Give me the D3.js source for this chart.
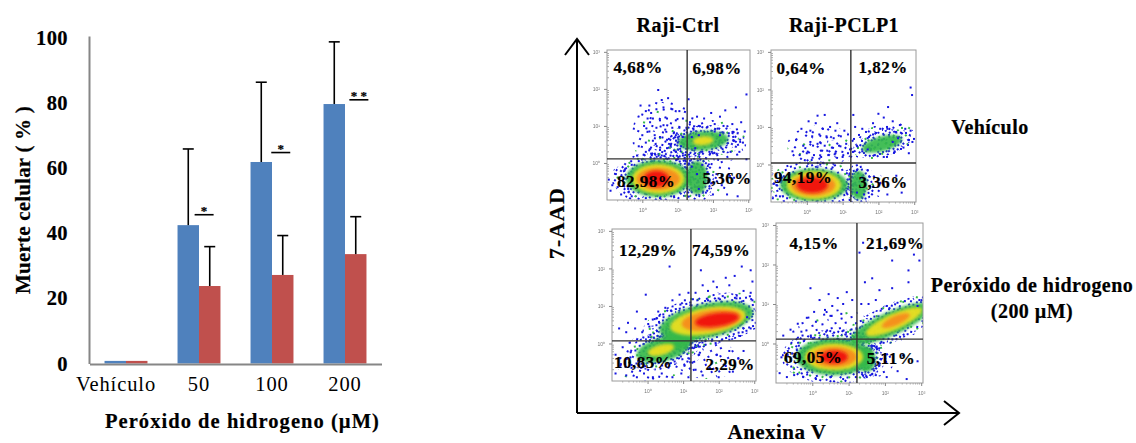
<!DOCTYPE html>
<meta charset="utf-8">
<style type="text/css">
body { margin: 0; background: #fff; }
svg { display: block; }
text { font-family: "Liberation Serif", serif; fill: #000; }
.bold { font-weight: bold; stroke: #000; stroke-width: 0.2px; }
.small text { font-size: 5px; fill: #777; font-family: "Liberation Sans", sans-serif; }
</style>
<body>
<script src="https://d3js.org/d3.v7.min.js"></script>
<script>
// bar chart values
var categories = ["Vehículo", "50", "100", "200"];
var seriesNames = ["Raji-Ctrl", "Raji-PCLP1"];
var ctrlValues = [0.8, 42.5, 61.9, 79.7];
var pclpValues = [0.8, 23.8, 27.2, 33.6];
var ctrlErrorTops = [null, 65.9, 86.4, 98.8];
var pclpErrorTops = [null, 35.9, 39.3, 45.1];
var yTicks = [0, 20, 40, 60, 80, 100];
// significance marks: category position (0-3), height, stars
var sigCategory = [1.07, 2.12, 3.19];
var sigHeight = [45.7, 64.8, 81];
var sigStars = ["*", "*", "* *"];

// flow cytometry panels
var panelRows = ["Vehículo", "Peróxido de hidrogeno"];
var pctLabels = [
  ["4,68%", "6,98%", "82,98%", "5,36%"],
  ["0,64%", "1,82%", "94,19%", "3,36%"],
  ["12,29%", "74,59%", "10,83%", "2,29%"],
  ["4,15%", "21,69%", "69,05%", "5,11%"]
];
var decadeTicks = [0, 1, 2, 3];
// quadrant gates, in log10 units
var gateX = [1.27, 1.23, 1.22, 1.23];
var gateY = [0.11, 0.04, 0.07, 0.11];
// density zones: [log x, log y, half length, half height, tilt in degrees, density level 0-4]
var zones1 = [
  [0.65, 0.75, 0.95, 0.95, 0, 0], [1.85, 0.55, 1.1, 0.62, 0, 0], [1.8, -0.35, 0.75, 0.55, 0, 0],
  [0.5, -0.4, 1.4, 0.6, 0, 0], [0.7, 0.25, 0.6, 0.3, 0, 0], [0.9, 0.4, 0.8, 0.5, 0, 0], [1.9, 0.6, 1.0, 0.4, 0, 0],
  [0.45, -0.42, 0.92, 0.5, 0, 1], [1.72, 0.6, 0.72, 0.26, 5, 1],
  [1.55, -0.4, 0.3, 0.45, 0, 1], [0.45, -0.43, 0.74, 0.4, 0, 2], [1.72, 0.6, 0.3, 0.12, 5, 2],
  [0.45, -0.43, 0.62, 0.3, 0, 3], [0.4, -0.43, 0.36, 0.22, 0, 4]
];
var zones2 = [
  [0.4, 0.5, 0.95, 0.55, 0, 0], [2.1, 0.6, 0.95, 0.45, 12, 0], [1.6, -0.55, 0.6, 0.42, 0, 0],
  [0.5, 0.3, 0.8, 0.35, 0, 0], [2.2, 0.7, 0.8, 0.4, 12, 0],
  [0.25, -0.55, 1.28, 0.5, 0, 0], [0.2, -0.55, 0.95, 0.44, 0, 1], [2.1, 0.55, 0.58, 0.2, 15, 1],
  [1.45, -0.55, 0.24, 0.38, 0, 1], [0.2, -0.55, 0.76, 0.37, 0, 2], [0.18, -0.55, 0.62, 0.29, 0, 3],
  [0.15, -0.55, 0.44, 0.21, 0, 4]
];
var zones3 = [
  [1.55, 0.6, 1.5, 0.7, 14, 0], [0.4, -0.25, 1.3, 0.7, 20, 0], [1.7, -0.45, 0.9, 0.5, 0, 0],
  [1.65, 0.6, 1.35, 0.46, 12, 1], [0.45, -0.15, 0.78, 0.32, 15, 1], [0.95, 0.2, 0.55, 0.3, 30, 1],
  [1.7, 0.6, 1.08, 0.35, 10, 2], [0.38, -0.17, 0.38, 0.14, 15, 2], [1.8, 0.62, 0.85, 0.27, 8, 3],
  [1.95, 0.63, 0.62, 0.18, 8, 4]
];
var zones4 = [
  [0.5, 0.3, 1.1, 0.55, 10, 0], [0.55, -0.34, 1.4, 0.6, 0, 0], [2.2, 0.5, 1.45, 0.5, 24, 0],
  [1.6, -0.45, 0.65, 0.42, 0, 0], [0.6, -0.34, 1.05, 0.47, 0, 1], [2.15, 0.5, 1.2, 0.3, 24, 1],
  [1.5, -0.4, 0.25, 0.32, 0, 1], [0.6, -0.34, 0.8, 0.34, 0, 2], [2.25, 0.55, 0.85, 0.2, 24, 2],
  [0.6, -0.34, 0.62, 0.26, 0, 3], [2.3, 0.58, 0.42, 0.12, 24, 3], [0.6, -0.34, 0.38, 0.17, 0, 4]
];
// scattered events
var events1 = [[0.45,1.97],[0.73,1.75],[0.55,1.7],[0.2,1.55],[-0.05,1.55],[0.1,1.4],[0.25,1.35],[0.4,1.45],[0.6,1.5],[0.85,1.45],[1.05,1.4],[0.3,1.2],[0.15,1.2],[0.22,1.1],[0.5,1.15],[0.7,1.2],[0.95,1.15],[1.15,1.2],[1.31,1.72],[1.35,1.1],[1.55,1.25],[1.75,1.2],[1.95,1.35],[2.2,1.25],[2.35,1.42],[2.65,1.5],[2.95,1.85],[2.8,1.1],[2.55,1.05],[2.3,1.0],[2.05,1.05],[1.6,1.0],[1.45,0.9],[1.25,0.95],[1.05,0.95],[0.85,0.95],[0.65,0.9],[0.4,0.95],[0.2,0.85],[0,0.75],[-0.1,0.45],[0.1,0.55],[0.3,0.6],[0.5,0.7],[0.75,0.65],[0.95,0.75],[1.15,0.7],[2.7,0.8],[2.9,0.85],[2.85,0.55],[2.6,0.6],[2.75,0.3],[2.95,0.1],[2.5,0.3],[2.3,0.3],[2.1,0.25],[1.9,0.3],[1.7,0.3],[1.5,0.4],[0.1,0.3],[-0.15,0.2],[0.25,0.25],[0.5,0.35],[0.7,0.4],[0.95,0.3],[1.1,0.45],[1.15,0.2],[1.4,-0.1],[1.55,-0.3],[1.7,-0.05],[1.85,-0.25],[1.95,-0.55],[2.1,-0.3],[2.25,-0.6],[1.6,-0.7],[1.8,-0.8],[2.0,-0.85],[2.4,-0.85],[2.45,-0.3],[2.7,-0.9],[2.6,-0.4],[-0.95,-0.45],[-0.85,-0.6],[-0.75,-0.3],[-0.9,-0.75],[-0.6,-0.85],[-0.65,-0.5],[-0.4,-0.7],[-0.3,-0.9],[-0.5,-0.2],[0.1,-0.95],[0.5,-0.95],[0.9,-0.9],[0.05,1.0],[0.6,1.02],[0.35,0.75],[0.8,0.5],[1.0,0.55],[0.55,0.2],[-0.3,-0.05],[-0.1,0.05],[1.4,0.7],[2.2,0.75],[2.45,0.8],[2.05,0.85],[1.6,0.75]];
var events2 = [[0.5,1.32],[1.3,1.32],[2.94,1.85],[2.9,2.05],[2.27,1.53],[2.0,1.35],[1.85,1.1],[2.15,1.25],[2.4,1.15],[2.6,1.05],[2.75,0.95],[2.9,0.9],[2.5,0.85],[2.25,0.95],[2.05,0.95],[1.85,0.8],[1.7,0.7],[1.55,0.95],[1.35,1.0],[1.4,0.5],[1.55,0.35],[1.7,0.4],[1.9,0.25],[2.15,0.2],[2.45,0.35],[2.7,0.45],[2.85,0.3],[0.05,1.15],[0.25,1.1],[0.45,0.95],[0.65,1.0],[0.85,1.1],[1.05,0.9],[0.95,0.75],[0.75,0.7],[0.55,0.75],[0.35,0.8],[0.1,0.9],[-0.15,0.95],[-0.3,0.65],[-0.1,0.5],[0.1,0.6],[0.3,0.55],[0.5,0.5],[0.7,0.45],[0.9,0.5],[1.1,0.55],[-0.4,0.35],[-0.2,0.25],[0,0.3],[0.2,0.25],[0.4,0.2],[0.6,0.25],[0.8,0.3],[1.0,0.2],[1.15,0.3],[1.4,-0.15],[1.55,-0.35],[1.7,-0.15],[1.85,-0.6],[2.05,-0.5],[2.25,-0.8],[2.5,-0.3],[2.65,-0.75],[1.6,-0.8],[1.4,-0.75],[-0.95,-0.9],[-0.85,-0.55],[-0.75,-0.85],[-0.7,-0.35],[-0.55,-0.9],[0.3,1.3],[0.15,0.75],[0.8,0.9],[1.15,0.8],[2.95,0.6],[2.4,0.6],[2.55,0.7]];
var events3 = [[0.62,2.05],[1.5,1.95],[2.65,2.05],[2.9,1.95],[2.95,1.65],[2.45,1.8],[2.2,1.75],[1.85,1.65],[1.55,1.55],[1.7,1.4],[1.95,1.5],[2.3,1.55],[2.7,1.4],[2.9,1.35],[2.95,1.15],[1.35,1.35],[1.15,1.35],[0.9,1.3],[1.05,1.15],[0.7,1.15],[0.5,0.95],[0.3,0.85],[-0.05,1.3],[-0.3,0.85],[-0.55,0.55],[-0.8,0.4],[-0.6,0.3],[-0.35,0.4],[-0.15,0.3],[0.05,0.45],[0.2,0.65],[-0.05,0.65],[0.45,0.7],[1.4,1.15],[1.7,1.15],[2.0,1.2],[2.5,1.2],[2.8,0.7],[2.9,0.4],[2.6,0.2],[2.3,0.1],[-0.9,-0.3],[-0.75,-0.55],[-0.9,-0.8],[-0.6,-0.85],[-0.45,-0.65],[-0.3,-0.9],[-0.1,-0.8],[0.15,-0.9],[0.4,-0.8],[0.7,-0.9],[0.95,-0.8],[1.15,-0.9],[1.35,-0.7],[1.55,-0.85],[1.75,-0.65],[2.0,-0.9],[2.2,-0.6],[2.4,-0.75],[2.55,-0.4],[2.7,-0.2],[2.3,-0.2],[1.95,-0.3],[-0.7,-0.1],[-0.5,0.02],[1.2,-0.5],[1.45,-0.3]];
var events4 = [[1.4,2.55],[1.3,2.3],[2.0,2.42],[2.8,2.25],[2.95,2.1],[2.2,2.1],[2.65,1.85],[1.65,1.65],[1.45,1.55],[1.85,1.35],[2.2,1.4],[2.65,1.55],[-0.05,1.4],[0.95,1.3],[0.7,1.15],[0.45,1.25],[0.2,1.1],[0.85,1.0],[1.1,1.1],[1.35,1.0],[1.55,1.0],[1.75,1.1],[2.05,0.95],[2.95,1.1],[2.9,0.95],[0.55,0.95],[0.35,0.85],[0.05,0.8],[-0.15,0.65],[-0.4,0.5],[-0.6,0.35],[-0.8,0.2],[-0.3,0.3],[0.1,0.55],[0.5,0.7],[0.8,0.75],[-0.85,-0.35],[-0.9,-0.75],[-0.7,-0.85],[-0.5,-0.8],[-0.25,-0.85],[0.1,-0.9],[0.5,-0.85],[0.85,-0.9],[1.2,-0.85],[1.5,-0.85],[1.75,-0.8],[2.05,-0.85],[2.35,-0.7],[2.6,-0.9],[2.9,-0.45],[2.5,-0.3]];

var densityColors = ["#2a35d8", "#35b84a", "#f0e020", "#f78a1e", "#f01010"];
var eventColor = "#1616e0";

var width = 1136, height = 443;
var svg = d3.select("body").append("svg").attr("width", width).attr("height", height);

var defs = svg.append("defs");
defs.append("filter").attr("id", "soft").attr("x", "-5%").attr("y", "-5%").attr("width", "110%").attr("height", "110%")
  .append("feGaussianBlur").attr("stdDeviation", 0.4);
defs.append("filter").attr("id", "blobBlur").attr("x", "-20%").attr("y", "-20%").attr("width", "140%").attr("height", "140%")
  .append("feGaussianBlur").attr("stdDeviation", 1.7);

// stipple tiles for the low density zones
var sparseTile = [[2,3],[11,1],[20,5],[27,2],[6,10],[15,9],[24,12],[1,16],[10,17],[19,15],[28,19],[5,23],[14,24],[22,22],[9,28],[26,27],[17,29]];
var denseTile = sparseTile.concat([[7,5],[15,3],[24,8],[3,7],[12,6],[18,11],[28,8],[9,13],[21,18],[4,19],[13,20],[25,16],[1,26],[18,25],[7,26],[29,23],[12,12],[16,20],[22,27],[3,13],[27,12],[10,23],[14,28],[19,2]]);
function addTile(id, tile, angle) {
  var pat = defs.append("pattern").attr("id", id).attr("patternUnits", "userSpaceOnUse")
    .attr("width", 30).attr("height", 30).attr("patternTransform", "rotate(" + angle + ")");
  pat.selectAll("rect").data(tile).enter().append("rect")
    .attr("x", function(d) { return d[0]; }).attr("y", function(d) { return d[1]; })
    .attr("width", 2).attr("height", 2)
    .attr("fill", function(d, i) { return i % 6 == 5 ? densityColors[1] : eventColor; });
}

/* ---- bar chart ---- */
var axisColor = "#868686";
var barColors = ["#4f81bd", "#c0504d"];

var x0 = d3.scaleBand().domain(categories).range([89.5, 381.5]);
var x1 = d3.scaleBand().domain(seriesNames).range([0, x0.bandwidth()]).paddingOuter(0.7);
var y = d3.scaleLinear().domain([0, 100.6]).range([363.5, 36]);
var catPos = d3.scaleLinear().domain([0, 3]).range([x0(categories[0]) + x0.bandwidth() / 2, x0(categories[3]) + x0.bandwidth() / 2]);

[ctrlValues, pclpValues].forEach(function(values, s) {
  svg.append("g").selectAll("rect")
    .data(values)
    .enter().append("rect")
      .attr("x", function(d, i) { return x0(categories[i]) + x1(seriesNames[s]); })
      .attr("y", function(d) { return y(d); })
      .attr("width", x1.bandwidth())
      .attr("height", function(d) { return y(0) - y(d); })
      .attr("fill", barColors[s]);
});

// error bars, only the upper half is drawn in the original
[ctrlValues, pclpValues].forEach(function(values, s) {
  var tops = s == 0 ? ctrlErrorTops : pclpErrorTops;
  values.forEach(function(v, i) {
    if (tops[i] == null) return;
    var cx = x0(categories[i]) + x1(seriesNames[s]) + x1.bandwidth() / 2;
    svg.append("line").attr("x1", cx).attr("x2", cx).attr("y1", y(v)).attr("y2", y(tops[i]))
      .attr("stroke", "#000").attr("stroke-width", 1.6);
    svg.append("line").attr("x1", cx - 5.5).attr("x2", cx + 5.5).attr("y1", y(tops[i])).attr("y2", y(tops[i]))
      .attr("stroke", "#000").attr("stroke-width", 1.6);
  });
});

sigCategory.forEach(function(c, i) {
  var cx = catPos(c);
  svg.append("line").attr("x1", cx - 9.5).attr("x2", cx + 9.5).attr("y1", y(sigHeight[i])).attr("y2", y(sigHeight[i]))
    .attr("stroke", "#000").attr("stroke-width", 1.6);
  svg.append("text").attr("x", cx).attr("y", y(sigHeight[i]) + 0.5).attr("text-anchor", "middle")
    .attr("class", "bold").style("font-size", "13px").text(sigStars[i]);
});

var yAxis = svg.append("g").attr("transform", "translate(89,0)")
  .call(d3.axisLeft(y).tickValues(yTicks).tickSize(0).tickPadding(21));
yAxis.select(".domain").attr("stroke", axisColor).attr("stroke-width", 2);
yAxis.selectAll("text").attr("class", "bold").style("font-size", "20.5px").style("font-family", "Liberation Serif").style("letter-spacing", "0.4px");

var xAxis = svg.append("g").attr("transform", "translate(0,364)")
  .call(d3.axisBottom(x0).tickSize(0).tickPadding(12));
xAxis.select(".domain").attr("stroke", axisColor).attr("stroke-width", 2);
xAxis.selectAll("text").style("font-size", "20.5px").style("font-family", "Liberation Serif").style("letter-spacing", "0.9px")
  .attr("dx", function(d) { return d == "Vehículo" ? -10 : 0; });

svg.append("text").attr("class", "bold").attr("x", 242.5).attr("y", 428).attr("text-anchor", "middle")
  .style("font-size", "20.5px").style("letter-spacing", "1.05px").text("Peróxido de hidrogeno (µM)");
svg.append("text").attr("class", "bold").attr("transform", "translate(30,200) rotate(-90)").attr("text-anchor", "middle")
  .style("font-size", "21px").style("letter-spacing", "0.2px").text("Muerte celular ( % )");

/* ---- flow cytometry panels ---- */
var panelLayout = [
  { left: 607, right: 750, top: 50, bottom: 200, zones: zones1, events: events1, pct: [[638, 73], [717, 74], [646, 187], [727, 184]] },
  { left: 771, right: 916, top: 50, bottom: 202, zones: zones2, events: events2, pct: [[801, 74], [883, 73], [803, 183], [883, 188]] },
  { left: 612, right: 756, top: 229, bottom: 381, zones: zones3, events: events3, pct: [[648, 256], [721, 256], [643, 368], [730, 370]] },
  { left: 776, right: 923, top: 223, bottom: 383, zones: zones4, events: events4, pct: [[814, 249], [895, 249], [813, 363], [891, 364]] }
];
var minorSteps = [2, 3, 4, 5, 6, 7, 8, 9];

panelLayout.forEach(function(p, i) {
  var px = d3.scaleLinear().domain([-1, 3.05]).range([p.left, p.right]);
  var py = d3.scaleLinear().domain([-1, 3.05]).range([p.bottom, p.top]);
  var clipId = "clip" + i;
  defs.append("clipPath").attr("id", clipId).append("rect")
    .attr("x", p.left).attr("y", p.top).attr("width", p.right - p.left).attr("height", p.bottom - p.top);
  addTile("sparse" + i, sparseTile, 17 + i * 23);
  addTile("sparseB" + i, sparseTile, 71 + i * 31);
  addTile("dense" + i, denseTile, 38 + i * 29);

  var g = svg.append("g").attr("filter", "url(#soft)");
  var blobs = g.append("g").attr("clip-path", "url(#" + clipId + ")");

  function place(d) { return "translate(" + px(d[0]) + "," + py(d[1]) + ") rotate(" + (-d[4]) + ")"; }

  // stipple first: low density zones, then a dense ring round each green zone
  p.zones.filter(function(d) { return d[5] == 0; }).forEach(function(d, k) {
    blobs.append("ellipse").attr("transform", place(d))
      .attr("rx", px(d[2]) - px(0)).attr("ry", py(0) - py(d[3]))
      .attr("fill", "url(#" + (k % 2 ? "sparseB" : "sparse") + i + ")");
  });
  p.zones.filter(function(d) { return d[5] == 1; }).forEach(function(d) {
    blobs.append("ellipse").attr("transform", place(d))
      .attr("rx", (px(d[2]) - px(0)) * 1.3 + 3).attr("ry", (py(0) - py(d[3])) * 1.3 + 3)
      .attr("fill", "url(#dense" + i + ")");
  });
  blobs.selectAll("ellipse.core")
    .data(p.zones.filter(function(d) { return d[5] > 0; }))
    .enter().append("ellipse")
      .attr("class", "core")
      .attr("transform", place)
      .attr("rx", function(d) { return px(d[2]) - px(0); })
      .attr("ry", function(d) { return py(0) - py(d[3]); })
      .attr("fill", function(d) { return densityColors[d[5]]; })
      .attr("fill-opacity", 0.92)
      .attr("filter", "url(#blobBlur)");

  g.append("g").attr("clip-path", "url(#" + clipId + ")").selectAll("rect")
    .data(p.events)
    .enter().append("rect")
      .attr("x", function(d) { return px(d[0]) - 1; })
      .attr("y", function(d) { return py(d[1]) - 1; })
      .attr("width", 2).attr("height", 2)
      .attr("fill", eventColor);

  // frame and gates
  g.append("rect").attr("x", p.left).attr("y", p.top).attr("width", p.right - p.left).attr("height", p.bottom - p.top)
    .attr("fill", "none").attr("stroke", "#9a9a9a").attr("stroke-width", 1);
  g.append("line").attr("x1", px(gateX[i])).attr("x2", px(gateX[i])).attr("y1", p.top).attr("y2", p.bottom)
    .attr("stroke", "#333").attr("stroke-width", 1.4);
  g.append("line").attr("x1", p.left).attr("x2", p.right).attr("y1", py(gateY[i])).attr("y2", py(gateY[i]))
    .attr("stroke", "#333").attr("stroke-width", 1.4);

  // log axes with their small grey labels
  var minor = [];
  [-1, 0, 1, 2].forEach(function(d) {
    minorSteps.forEach(function(k) { minor.push(d + Math.log10(k)); });
  });
  var fmt = function(d) { return "10" + "⁰¹²³"[d]; };
  var ax = g.append("g").attr("class", "small").attr("transform", "translate(0," + p.bottom + ")")
    .call(d3.axisBottom(px).tickValues(decadeTicks).tickFormat(fmt).tickSize(3).tickPadding(5));
  var ay = g.append("g").attr("class", "small").attr("transform", "translate(" + p.left + ",0)")
    .call(d3.axisLeft(py).tickValues(decadeTicks).tickFormat(fmt).tickSize(3).tickPadding(4));
  [ax, ay].forEach(function(a) {
    a.select(".domain").remove();
    a.selectAll("line").attr("stroke", "#888");
  });
  g.append("g").selectAll("line").data(minor).enter().append("line")
    .attr("x1", function(d) { return px(d); }).attr("x2", function(d) { return px(d); })
    .attr("y1", p.bottom).attr("y2", p.bottom + 1.5).attr("stroke", "#aaa");
  g.append("g").selectAll("line").data(minor).enter().append("line")
    .attr("y1", function(d) { return py(d); }).attr("y2", function(d) { return py(d); })
    .attr("x1", p.left).attr("x2", p.left + 2).attr("stroke", "#aaa");

  pctLabels[i].forEach(function(t, k) {
    svg.append("text").attr("class", "bold").attr("x", p.pct[k][0]).attr("y", p.pct[k][1]).attr("text-anchor", "middle")
      .style("font-size", "17px").style("letter-spacing", "0.5px").text(t);
  });
});

// big arrows
var arrowPath = "M577,413V39M565,55L577,39L589,55M577,413H958M944,401L959,413L944,425";
svg.append("path").attr("d", arrowPath).attr("fill", "none").attr("stroke", "#000").attr("stroke-width", 2);

function label(x, y, txt, anchor, size) {
  return svg.append("text").attr("class", "bold").attr("x", x).attr("y", y).attr("text-anchor", anchor || "middle")
    .style("font-size", (size || 20) + "px").style("letter-spacing", "0.45px").text(txt);
}
label(678, 32, seriesNames[0]);
label(844, 32, seriesNames[1]);
label(990, 134, panelRows[0]);
label(1032, 292, panelRows[1]);
label(1032, 318, "(200 µM)");
label(777, 439, "Anexina V", "middle", 21);
svg.append("text").attr("class", "bold").attr("transform", "translate(564,223) rotate(-90)").attr("text-anchor", "middle")
  .style("font-size", "22px").style("letter-spacing", "1.3px").text("7-AAD");
</script>
</body>
